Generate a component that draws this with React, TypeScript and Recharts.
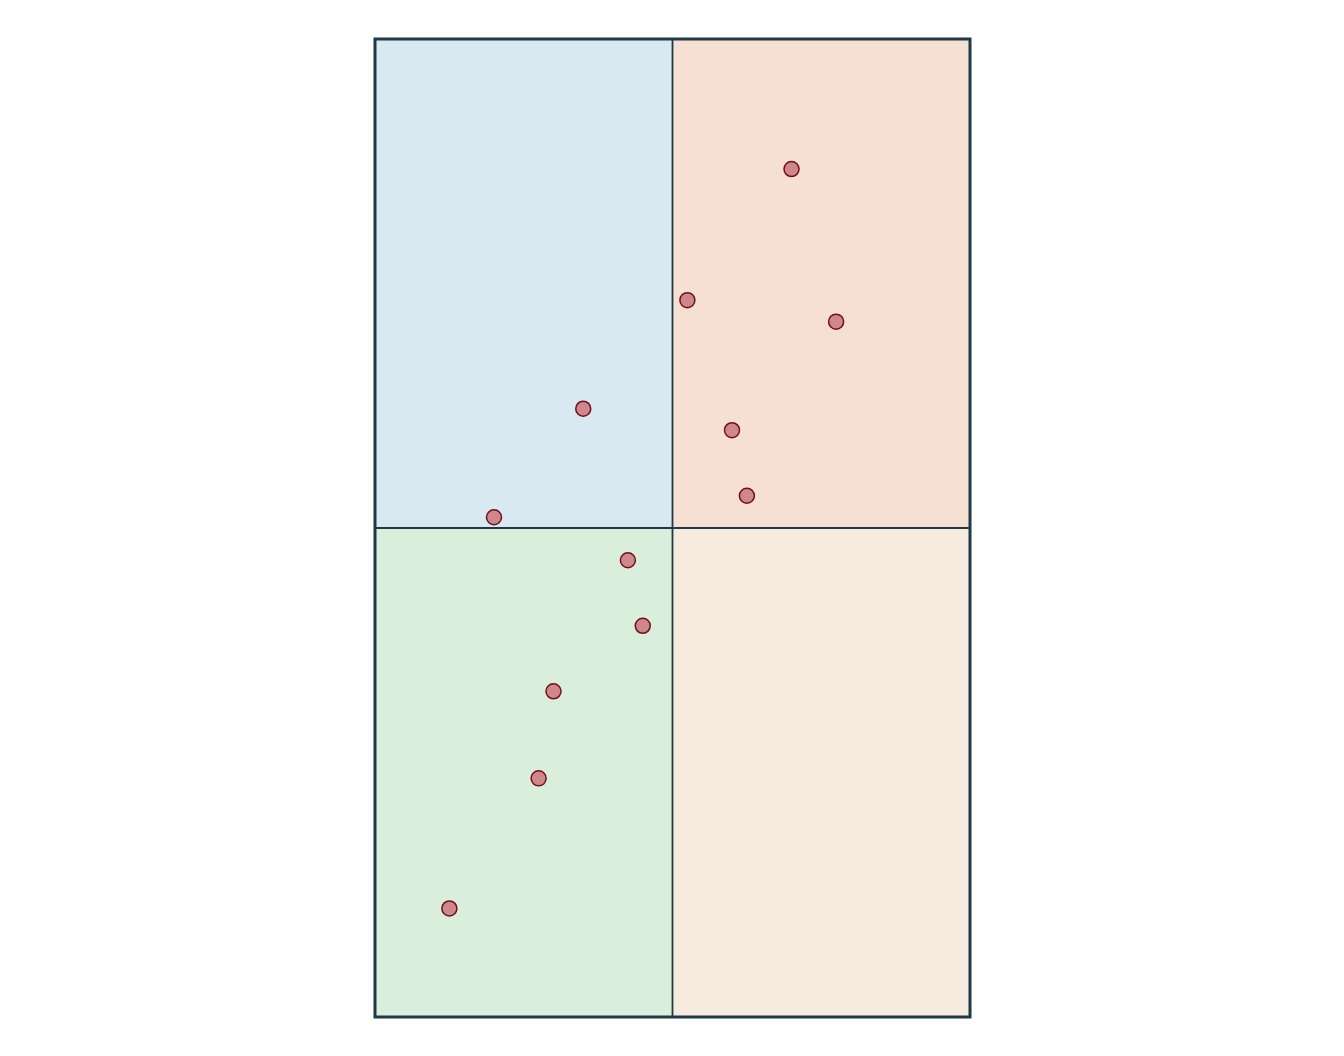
import React from 'react';
import { ScatterChart, Scatter, XAxis, YAxis, ReferenceArea, ReferenceLine } from 'recharts';

const xValues = [0.7, 0.525, 0.775, 0.35, 0.6, 0.625, 0.2, 0.425, 0.45, 0.3, 0.275, 0.125];
const yValues = [0.867, 0.733, 0.711, 0.622, 0.6, 0.533, 0.511, 0.467, 0.4, 0.333, 0.244, 0.111];

const quadrants = [
  { name: 'topLeft', x1: 0, x2: 0.5, y1: 0.5, y2: 1, fill: '#d9e9f2' },
  { name: 'topRight', x1: 0.5, x2: 1, y1: 0.5, y2: 1, fill: '#f6e0d1' },
  { name: 'bottomLeft', x1: 0, x2: 0.5, y1: 0, y2: 0.5, fill: '#daeedc' },
  { name: 'bottomRight', x1: 0.5, x2: 1, y1: 0, y2: 0.5, fill: '#f7ebe0' },
];

const points = xValues.map((x, i) => ({ x, y: yValues[i] }));

const border = '#1e3a46';

const Dot = (props: any) => (
  <circle cx={props.cx} cy={props.cy} r={7.5} fill="#d0878a" stroke="#700f1c" strokeWidth={1.5} />
);

export default function App() {
  return (
    <div style={{ width: 1328, height: 1040 }}>
      <ScatterChart width={1328} height={1040} margin={{ top: 31, right: 366, bottom: 31, left: 367 }}>
        <XAxis type="number" dataKey="x" domain={[0, 1]} hide />
        <YAxis type="number" dataKey="y" domain={[0, 1]} hide />
        {quadrants.map((q) => (
          <ReferenceArea key={q.name} x1={q.x1} x2={q.x2} y1={q.y1} y2={q.y2} fill={q.fill} fillOpacity={1} stroke="none" />
        ))}
        <ReferenceLine x={0.5} stroke={border} strokeWidth={1.8} />
        <ReferenceLine y={0.5} stroke={border} strokeWidth={1.8} />
        <ReferenceArea x1={0} x2={1} y1={0} y2={1} fill="none" stroke={border} strokeWidth={3} />
        <Scatter data={points} shape={Dot} isAnimationActive={false} />
      </ScatterChart>
    </div>
  );
}
